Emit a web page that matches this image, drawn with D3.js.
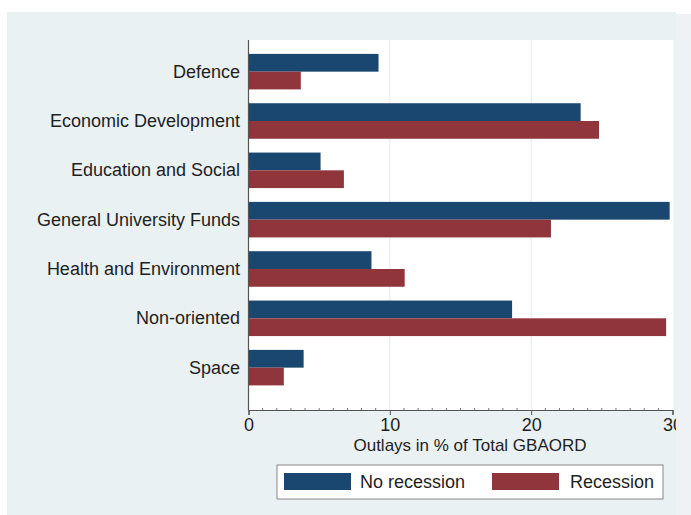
<!DOCTYPE html>
<html><head><meta charset="utf-8">
<script src="https://cdn.jsdelivr.net/npm/d3@7"></script>
<style>body{margin:0;background:#fff}svg{display:block}text{font-family:Arial,"Liberation Sans",sans-serif}</style>
</head><body>
<svg id="c" width="691" height="515"></svg>
<script>
const categories = ["Defence","Economic Development","Education and Social","General University Funds","Health and Environment","Non-oriented","Space"];
const noRecession = [9.2, 23.5, 5.1, 29.8, 8.7, 18.65, 3.9];
const recession = [3.7, 24.8, 6.75, 21.4, 11.05, 29.55, 2.5];
const seriesNames = ["No recession","Recession"];
const xTicks = [0,10,20,30];
const colors = ["#1a476f","#90353b"];

const svg = d3.select("#c");
svg.append("rect").attr("x",7).attr("y",12).attr("width",669).attr("height",503).attr("fill","#eaf1f3");
svg.append("rect").attr("x",676).attr("y",14).attr("width",15).attr("height",501).attr("fill","#eef2f4");

const x0=248.5, x1=672.5, yTop=40, yBot=410;
const x = d3.scaleLinear().domain([0,30]).range([x0,x1]);
const y = d3.scaleBand().domain(categories).range([47,392.3]).paddingInner(0.28).paddingOuter(0.14);
const ys = d3.scaleBand().domain(seriesNames).range([0,y.bandwidth()]);

svg.append("rect").attr("x",x0).attr("y",yTop).attr("width",x1-x0+1).attr("height",yBot-yTop).attr("fill","#fff");
svg.append("g").selectAll("line").data(xTicks.filter(d=>d>0&&d<30)).join("line")
  .attr("x1",d=>x(d)).attr("x2",d=>x(d)).attr("y1",yTop).attr("y2",yBot)
  .attr("stroke","#e6eef0").attr("stroke-width",1.2);

const data = [noRecession, recession];
data.forEach((vals,si)=>{
  svg.append("g").selectAll("rect").data(categories).join("rect")
    .attr("x",x0).attr("y",(c)=>y(c)+ys(seriesNames[si]))
    .attr("width",(c,i)=>x(vals[i])-x0).attr("height",ys.bandwidth())
    .attr("fill",colors[si]);
});

svg.append("line").attr("x1",x0).attr("x2",x0).attr("y1",yTop).attr("y2",yBot).attr("stroke","#555").attr("stroke-width",1.2);
svg.append("g").selectAll("text").data(categories).join("text")
  .attr("x",240).attr("y",c=>y(c)+y.bandwidth()/2+6).attr("text-anchor","end")
  .attr("font-size",18).attr("fill","#1e1e1e").text(c=>c);

const xa = svg.append("g").attr("transform",`translate(0,${yBot})`)
  .call(d3.axisBottom(x).tickValues(xTicks).tickSize(5).tickFormat(d3.format("d")));
xa.select(".domain").attr("stroke","#555").attr("stroke-width",1.2);
xa.selectAll(".tick line").attr("stroke","#555");
xa.selectAll(".tick text").attr("font-size",18).attr("fill","#1e1e1e").attr("y",8).attr("dy","0.71em")
  .attr("font-family","Arial,'Liberation Sans',sans-serif");
svg.append("g").selectAll("line").data(d3.range(1,30).filter(d=>d%10)).join("line")
  .attr("x1",d=>x(d)).attr("x2",d=>x(d)).attr("y1",yBot-2).attr("y2",yBot)
  .attr("stroke","#777");
svg.append("rect").attr("x",676).attr("y",414).attr("width",15).attr("height",25).attr("fill","#eef2f4");
svg.append("text").attr("x",470).attr("y",451).attr("text-anchor","middle").attr("font-size",17).attr("fill","#1e1e1e")
  .text("Outlays in % of Total GBAORD");

svg.append("rect").attr("x",277).attr("y",465).attr("width",386).attr("height",34).attr("fill","#fff").attr("stroke","#888").attr("stroke-width",1);
const lg=[{x:284,tx:360},{x:492,tx:570}];
lg.forEach((l,i)=>{
  svg.append("rect").attr("x",l.x).attr("y",473).attr("width",67).attr("height",17).attr("fill",colors[i]);
  svg.append("text").attr("x",l.tx).attr("y",488).attr("font-size",18).attr("fill","#1e1e1e").text(seriesNames[i]);
});
</script>
</body></html>
